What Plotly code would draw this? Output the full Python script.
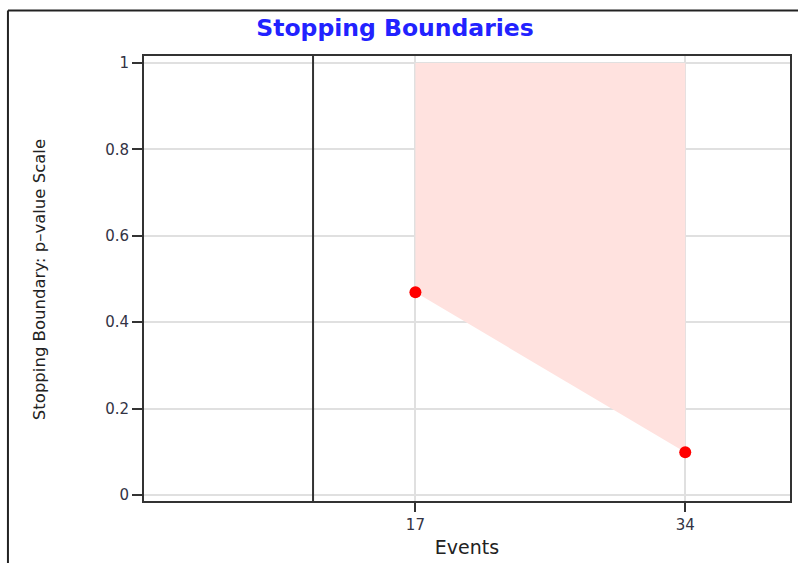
import plotly.graph_objects as go

# Data
events = [17, 34]
boundary_p = [0.469, 0.099]
upper_p = [1.0, 1.0]
y_ticks = [0, 0.2, 0.4, 0.6, 0.8, 1]
y_tick_labels = ["0", "0.2", "0.4", "0.6", "0.8", "1"]
x_ticks = [17, 34]
x_tick_labels = ["17", "34"]
ref_line_x = 10.55

fig = go.Figure()

# lower boundary (invisible edge) then upper with fill between
fig.add_trace(go.Scatter(x=events, y=boundary_p, mode="lines",
                         line=dict(width=0, color="rgba(0,0,0,0)"),
                         hoverinfo="skip", showlegend=False))
fig.add_trace(go.Scatter(x=events, y=upper_p, mode="lines",
                         line=dict(width=0, color="rgba(0,0,0,0)"),
                         fill="tonexty", fillcolor="#ffe2df",
                         hoverinfo="skip", showlegend=False))
fig.add_trace(go.Scatter(x=events, y=boundary_p, mode="markers",
                         marker=dict(color="#ff0000", size=12,
                                     line=dict(width=0)),
                         showlegend=False))

# vertical reference line
fig.add_shape(type="line", xref="x", yref="paper", x0=ref_line_x, x1=ref_line_x,
              y0=0, y1=1, line=dict(color="#333333", width=2))

# outer frame lines (left & top)
fig.add_shape(type="line", xref="paper", yref="paper",
              x0=-0.2106, x1=-0.2106, y0=-0.2, y1=1.1022,
              line=dict(color="#222222", width=2))
fig.add_shape(type="line", xref="paper", yref="paper",
              x0=-0.2106, x1=1.05, y0=1.1022, y1=1.1022,
              line=dict(color="#222222", width=2))

fig.add_annotation(text="Stopping Boundary: p\u2013value Scale",
                   xref="paper", yref="paper", x=-0.1605, y=0.497,
                   xanchor="center", yanchor="middle", textangle=-90,
                   showarrow=False,
                   font=dict(family="DejaVu Sans", size=16.5, color="#222222"))

fig.update_layout(
    width=798, height=563,
    margin=dict(l=144, r=6, t=56, b=62),
    paper_bgcolor="white", plot_bgcolor="white",
    title=dict(text="Stopping Boundaries", x=0.495, xref="container",
               xanchor="center", y=1 - 28 / 563, yanchor="middle",
               font=dict(family="DejaVu Sans", size=23.5, color="#2222ff",
                         weight="bold")),
    xaxis=dict(range=[-0.1, 40.6], tickvals=x_ticks, ticktext=x_tick_labels,
               showgrid=True, gridcolor="#e0e0e0", gridwidth=1.5,
               zeroline=False, showline=True, mirror=True,
               linecolor="#333333", linewidth=2,
               ticks="outside", ticklen=9, tickwidth=2, tickcolor="#333333",
               tickfont=dict(family="DejaVu Sans", size=15, color="#333344"),
               title=dict(text="Events", standoff=8,
                          font=dict(family="DejaVu Sans", size=19, color="#222222"))),
    yaxis=dict(range=[-0.014, 1.016], tickvals=y_ticks, ticktext=y_tick_labels,
               showgrid=True, gridcolor="#e0e0e0", gridwidth=1.5,
               zeroline=False, showline=True, mirror=True,
               linecolor="#333333", linewidth=2,
               ticks="outside", ticklen=10, tickwidth=2, tickcolor="#333333",
               tickfont=dict(family="DejaVu Sans", size=15, color="#333344")),
    hovermode=False,
)

fig.write_html("out.html", config={"displayModeBar": False},
               post_script="document.body.style.margin='0px';")
